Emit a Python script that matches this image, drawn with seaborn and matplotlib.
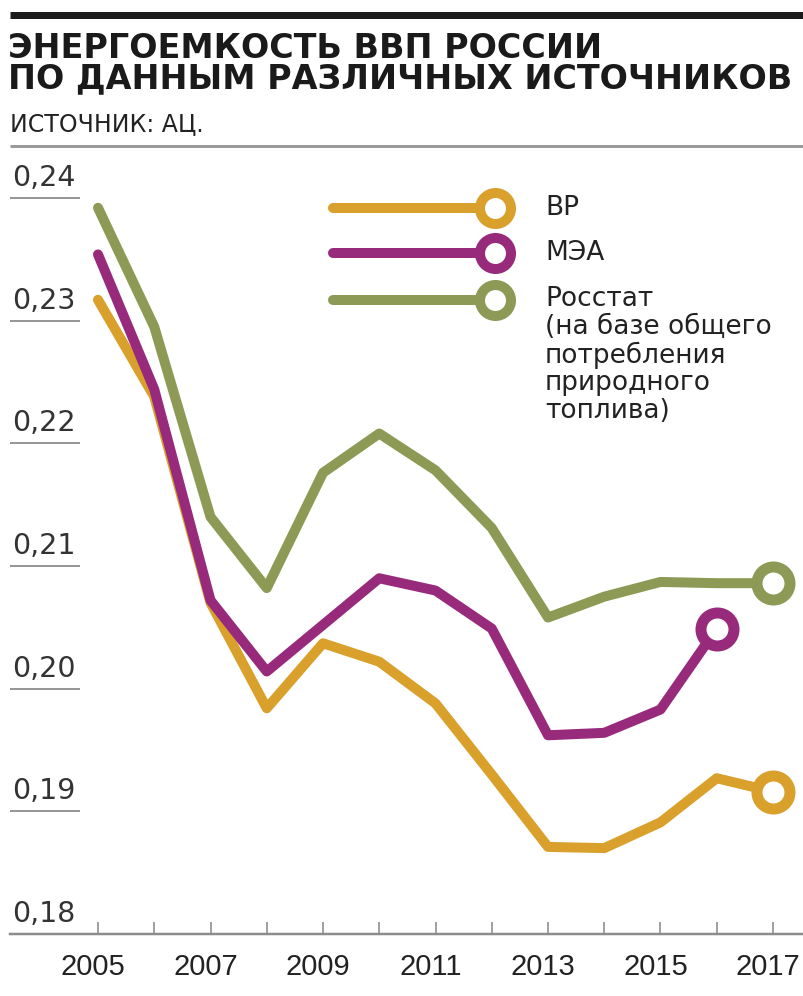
import matplotlib
matplotlib.use("Agg")
import matplotlib.pyplot as plt
import matplotlib.transforms as mtransforms
from matplotlib.lines import Line2D
import pandas as pd
import seaborn as sns

# Energy intensity of Russian GDP, three sources
years = list(range(2005, 2018))
bp_values = [0.2317, 0.2238, 0.2070, 0.1984, 0.2037, 0.2022, 0.1988,
             0.1930, 0.1871, 0.1870, 0.1891, 0.1927, 0.1916]
iea_years = list(range(2005, 2017))
iea_values = [0.2354, 0.2244, 0.2072, 0.2014, 0.2052, 0.2090, 0.2080,
              0.2049, 0.1962, 0.1964, 0.1983, 0.2049]
rosstat_values = [0.2392, 0.2295, 0.2140, 0.2082, 0.2176, 0.2208, 0.2178,
                  0.2131, 0.2058, 0.2075, 0.2087, 0.2086, 0.2086]

series_names = ["BP", "МЭА", "Росстат"]
legend_labels = ["BP", "МЭА",
                 "Росстат\n(на базе общего\nпотребления\nприродного\nтоплива)"]
series_colors = ["#D9A02B", "#982A7B", "#8D9A55"]

y_ticks = [0.18, 0.19, 0.20, 0.21, 0.22, 0.23, 0.24]
y_tick_labels = ["0,18", "0,19", "0,20", "0,21", "0,22", "0,23", "0,24"]
x_tick_labels = ["2005", "", "2007", "", "2009", "", "2011", "",
                 "2013", "", "2015", "", "2017"]

title_lines = ["ЭНЕРГОЕМКОСТЬ ВВП РОССИИ", "ПО ДАННЫМ РАЗЛИЧНЫХ ИСТОЧНИКОВ"]
source_text = "ИСТОЧНИК: АЦ."

frames = [
    pd.DataFrame({"year": years, "value": bp_values, "source": series_names[0]}),
    pd.DataFrame({"year": iea_years, "value": iea_values, "source": series_names[1]}),
    pd.DataFrame({"year": years, "value": rosstat_values, "source": series_names[2]}),
]
df = pd.concat(frames, ignore_index=True)
palette = dict(zip(series_names, series_colors))

sns.set_theme(style="white")
plt.rcParams["font.family"] = ["DejaVu Sans"]

W, H = 804, 996
fig = plt.figure(figsize=(W / 100, H / 100), dpi=100)


def fx(x):
    return x / W


def fy(y):
    return 1 - y / H


PX = 72 / 100  # points per pixel

# plot area: 2005 at x=98 px, 56.25 px per year; 0.18 at y=934 px, 0.24 at y=198 px
px_per_year = 56.25
px_per_unit = (934 - 198) / 0.06
ax = fig.add_axes([fx(10), fy(934), (W - 10) / W, (934 - 160) / H])
ax.set_xlim(2005 - 88 / px_per_year, 2005 + (W - 98) / px_per_year)
ax.set_ylim(0.18, 0.24 + (198 - 160) / px_per_unit)

sns.lineplot(data=df, x="year", y="value", hue="source", palette=palette,
             hue_order=series_names, linewidth=10 * PX, legend=False,
             sort=True, ax=ax, zorder=3)
for line in ax.lines:
    line.set_solid_capstyle("round")
    line.set_solid_joinstyle("round")

# open ring at the latest value of each series
for name, color in zip(series_names, series_colors):
    last = df[df["source"] == name].iloc[-1]
    ax.plot([last["year"]], [last["value"]], marker="o", ms=33 * PX,
            mfc="white", mec=color, mew=11 * PX, zorder=4, clip_on=False)

# axes styling
for side in ["left", "right", "top"]:
    ax.spines[side].set_visible(False)
ax.spines["bottom"].set_color("#8c8c8c")
ax.spines["bottom"].set_linewidth(2.5 * PX)
ax.set_xticks(years)
ax.set_xticklabels(x_tick_labels, fontsize=21, color="#222222",
                   family=["Liberation Sans", "DejaVu Sans"])
ax.tick_params(axis="x", direction="in", length=12 * PX, width=1.6 * PX,
               color="#8c8c8c", pad=14, bottom=True)
shift = mtransforms.ScaledTranslation(-5 / 100, 0, fig.dpi_scale_trans)
for lbl in ax.get_xticklabels():
    lbl.set_transform(lbl.get_transform() + shift)
ax.set_yticks([])
ax.set_xlabel("")
ax.set_ylabel("")

# value labels sitting on short underlines
ytrans = ax.get_yaxis_transform()
for v, lab in zip(y_ticks, y_tick_labels):
    if v > y_ticks[0]:
        ax.plot([0, 70 / (W - 10)], [v, v], transform=ytrans, color="#8c8c8c",
                lw=1.8 * PX, solid_capstyle="butt", zorder=1, clip_on=False)
    ax.annotate(lab, xy=(2 / (W - 10), v), xycoords=ytrans, xytext=(0, 6),
                textcoords="offset pixels", ha="left", va="bottom",
                fontsize=20.5, color="#333333")

# header rules
fig.add_artist(Line2D([fx(10), 1], [fy(15.5), fy(15.5)], color="#1a1a1a",
                      lw=7 * PX, solid_capstyle="butt"))
fig.add_artist(Line2D([fx(10), 1], [fy(146), fy(146)], color="#9a9a9a",
                      lw=3 * PX, solid_capstyle="butt"))

fig.text(fx(8), fy(58), title_lines[0], fontsize=24,
         fontweight="bold", color="#1a1a1a", va="baseline", ha="left")
fig.text(fx(8), fy(88), title_lines[1], fontsize=24,
         fontweight="bold", color="#1a1a1a", va="baseline", ha="left")
fig.text(fx(10), fy(131), source_text, fontsize=17, color="#222222",
         va="baseline", ha="left")

# legend: line segments ending in open rings
legend_y = [208, 253, 300]
for y, color, lab in zip(legend_y, series_colors, legend_labels):
    fig.add_artist(Line2D([fx(333), fx(495)], [fy(y), fy(y)], color=color,
                          lw=10 * PX, solid_capstyle="round"))
    fig.add_artist(Line2D([fx(495)], [fy(y)], marker="o", ms=31 * PX,
                          mfc="white", mec=color, mew=10 * PX))
    if "\n" in lab:
        fig.text(fx(545), fy(y - 14), lab, fontsize=19, color="#222222",
                 va="top", ha="left", linespacing=1.08)
    else:
        fig.text(fx(545), fy(y), lab, fontsize=19, color="#222222",
                 va="center", ha="left")

fig.savefig("out.png", dpi=100, facecolor="white")
